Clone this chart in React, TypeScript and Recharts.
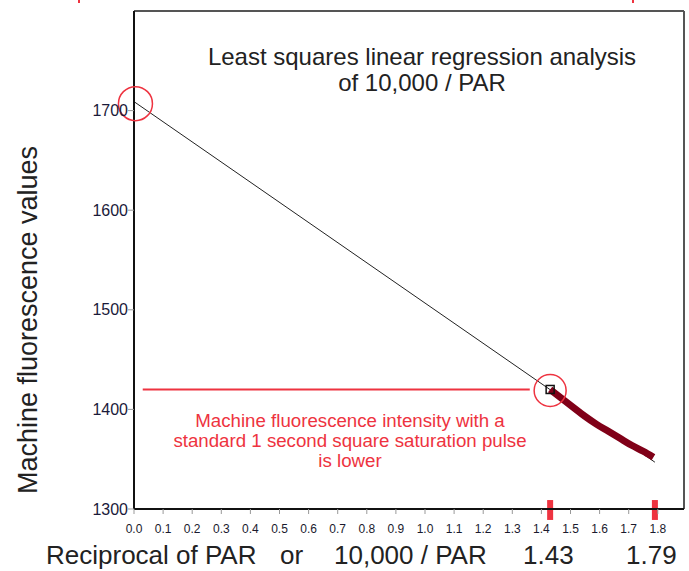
import {
  ComposedChart,
  Line,
  XAxis,
  YAxis,
  ReferenceLine,
  ReferenceDot,
} from "recharts";

const xTicks = [0, 0.1, 0.2, 0.3, 0.4, 0.5, 0.6, 0.7, 0.8, 0.9, 1.0, 1.1, 1.2, 1.3, 1.4, 1.5, 1.6, 1.7, 1.8];
const yTicks = [1300, 1400, 1500, 1600, 1700];

// least squares fit through the measured points, extrapolated to 0
const regression = [
  { x: 0, y: 1709 },
  { x: 1.79, y: 1347 },
];

// measured fluorescence vs 10,000 / PAR
const measured = [
  { x: 1.43, y: 1420 },
  { x: 1.47, y: 1411 },
  { x: 1.51, y: 1402 },
  { x: 1.55, y: 1393 },
  { x: 1.59, y: 1385 },
  { x: 1.63, y: 1378 },
  { x: 1.67, y: 1371 },
  { x: 1.71, y: 1364 },
  { x: 1.75, y: 1358 },
  { x: 1.785, y: 1352 },
];

const markedX = [1.43, 1.79];

const RED = "#ee3340";
const FONT = "Arial, 'Liberation Sans', sans-serif";

const SquareDot = (props: any) => (
  <rect
    x={props.cx - 4}
    y={props.cy - 4}
    width={8}
    height={8}
    fill="none"
    stroke="#111"
    strokeWidth={1.5}
  />
);

export default function App() {
  return (
    <div style={{ position: "absolute", left: 0, top: 0, width: 689, height: 571, background: "#fff", fontFamily: FONT }}>
      <ComposedChart width={689} height={571} margin={{ top: 11, right: 5, bottom: 32, left: 74 }}>
        <XAxis
          dataKey="x"
          type="number"
          domain={[0, 1.89]}
          ticks={xTicks}
          tickFormatter={(v: number) => v.toFixed(1)}
          height={30}
          axisLine={{ stroke: "#111", strokeWidth: 2 }}
          tickLine={{ stroke: "#999" }}
          tickSize={5}
          tickMargin={10}
          tick={{ fontSize: 12, fill: "#1a1a2e", fontFamily: FONT }}
          allowDataOverflow
        />
        <YAxis
          type="number"
          domain={[1300, 1800]}
          ticks={yTicks}
          width={60}
          axisLine={{ stroke: "#111", strokeWidth: 2 }}
          tickLine={{ stroke: "#999" }}
          tickSize={6}
          tickMargin={0}
          tick={{ fontSize: 16, fill: "#1a1a3a", fontFamily: FONT }}
          allowDataOverflow
        />
        <ReferenceLine y={1800} stroke="#555" strokeWidth={2} />
        <ReferenceLine x={1.89} stroke="#555" strokeWidth={2} />
        <ReferenceLine
          segment={[{ x: 0.03, y: 1420 }, { x: 1.36, y: 1420 }]}
          stroke={RED}
          strokeWidth={2}
        />
        {markedX.map((m) => (
          <ReferenceLine
            key={m}
            segment={[{ x: m, y: 1289 }, { x: m, y: 1309 }]}
            stroke={RED}
            strokeWidth={6}
            ifOverflow="visible"
          />
        ))}
        <Line
          data={regression}
          dataKey="y"
          stroke="#222"
          strokeWidth={1}
          dot={false}
          isAnimationActive={false}
        />
        <Line
          data={measured}
          dataKey="y"
          type="monotone"
          stroke="#800018"
          strokeWidth={7}
          dot={false}
          isAnimationActive={false}
        />
        <ReferenceDot x={1.43} y={1420} r={4} shape={SquareDot} ifOverflow="visible" />
        <ReferenceDot x={0.005} y={1707} r={17} fill="none" stroke={RED} strokeWidth={1.5} ifOverflow="visible" />
        <ReferenceDot x={1.43} y={1419} r={16} fill="none" stroke={RED} strokeWidth={1.5} ifOverflow="visible" />
      </ComposedChart>

      <div style={{ position: "absolute", left: 172, top: 44, width: 500, textAlign: "center", fontSize: 24, lineHeight: "26px", color: "#222" }}>
        Least squares linear regression analysis
        <br />
        of 10,000 / PAR
      </div>

      <div style={{ position: "absolute", left: 100, top: 411, width: 500, textAlign: "center", fontSize: 18.7, lineHeight: "20px", color: RED }}>
        Machine fluorescence intensity with a
        <br />
        standard 1 second square saturation pulse
        <br />
        is lower
      </div>

      <div
        style={{
          position: "absolute",
          left: 28,
          top: 320,
          transform: "translate(-50%, -50%) rotate(-90deg)",
          whiteSpace: "nowrap",
          fontSize: 27,
          color: "#222",
        }}
      >
        Machine fluorescence values
      </div>

      <div style={{ position: "absolute", top: 540, left: 0, width: 689, height: 30, fontSize: 26, lineHeight: "30px", color: "#222", whiteSpace: "nowrap" }}>
        <span style={{ position: "absolute", left: 46 }}>Reciprocal of PAR</span>
        <span style={{ position: "absolute", left: 280 }}>or</span>
        <span style={{ position: "absolute", left: 334 }}>10,000 / PAR</span>
        <span style={{ position: "absolute", left: 523 }}>1.43</span>
        <span style={{ position: "absolute", left: 626 }}>1.79</span>
      </div>

      <div style={{ position: "absolute", left: 78, top: 0, width: 2, height: 3, background: RED }} />
      <div style={{ position: "absolute", left: 632, top: 0, width: 2, height: 3, background: RED }} />
    </div>
  );
}
